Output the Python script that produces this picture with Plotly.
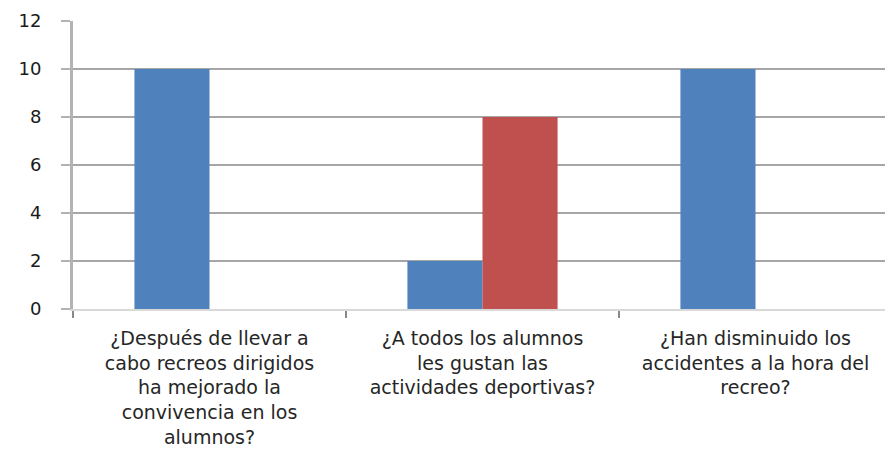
import plotly.graph_objects as go

categories = [
    "¿Después de llevar a<br>cabo recreos dirigidos<br>ha mejorado la<br>convivencia en los<br>alumnos?",
    "¿A todos los alumnos<br>les gustan las<br>actividades deportivas?",
    "¿Han disminuido los<br>accidentes a la hora del<br>recreo?",
]
serie1 = [10, 2, 10]
serie2 = [0, 8, 0]
y_ticks = [0, 2, 4, 6, 8, 10, 12]

FONT = "DejaVu Sans"

# page body has an 8px default margin, so the figure is sized to fit the window
fig = go.Figure()
fig.add_trace(go.Bar(x=categories, y=serie1, name="Sí", marker=dict(color="#4f81bd", line=dict(width=0))))
fig.add_trace(go.Bar(x=categories, y=serie2, name="No", marker=dict(color="#c0504d", line=dict(width=0))))

fig.update_layout(
    width=885, height=443,
    margin=dict(l=65, r=1, t=13, b=142),
    paper_bgcolor="white", plot_bgcolor="white",
    barmode="group", bargap=0.45, bargroupgap=0,
    showlegend=False,
    font=dict(family=FONT, size=19, color="#262626"),
)
fig.update_xaxes(
    type="category", automargin=False,
    tickson="boundaries", ticks="outside", ticklen=7, tickwidth=2, tickcolor="#888888",
    showline=True, linecolor="#d9d9d9", linewidth=2,
    showgrid=False,
    ticklabelstandoff=11,
    tickfont=dict(family=FONT, size=19, color="#262626"),
    tickangle=0,
)
fig.update_yaxes(
    range=[0, 12], tickvals=y_ticks, ticktext=[str(v) for v in y_ticks],
    automargin=False,
    showgrid=True, gridcolor="#a6a6a6", gridwidth=2,
    ticks="outside", ticklen=9, tickcolor="#b3b3b3", tickwidth=2,
    showline=True, linecolor="#b3b3b3", linewidth=3,
    zeroline=False,
    ticklabelstandoff=16,
    tickfont=dict(family=FONT, size=18, color="#1a1a1a"),
)

fig.write_html("out.html")
